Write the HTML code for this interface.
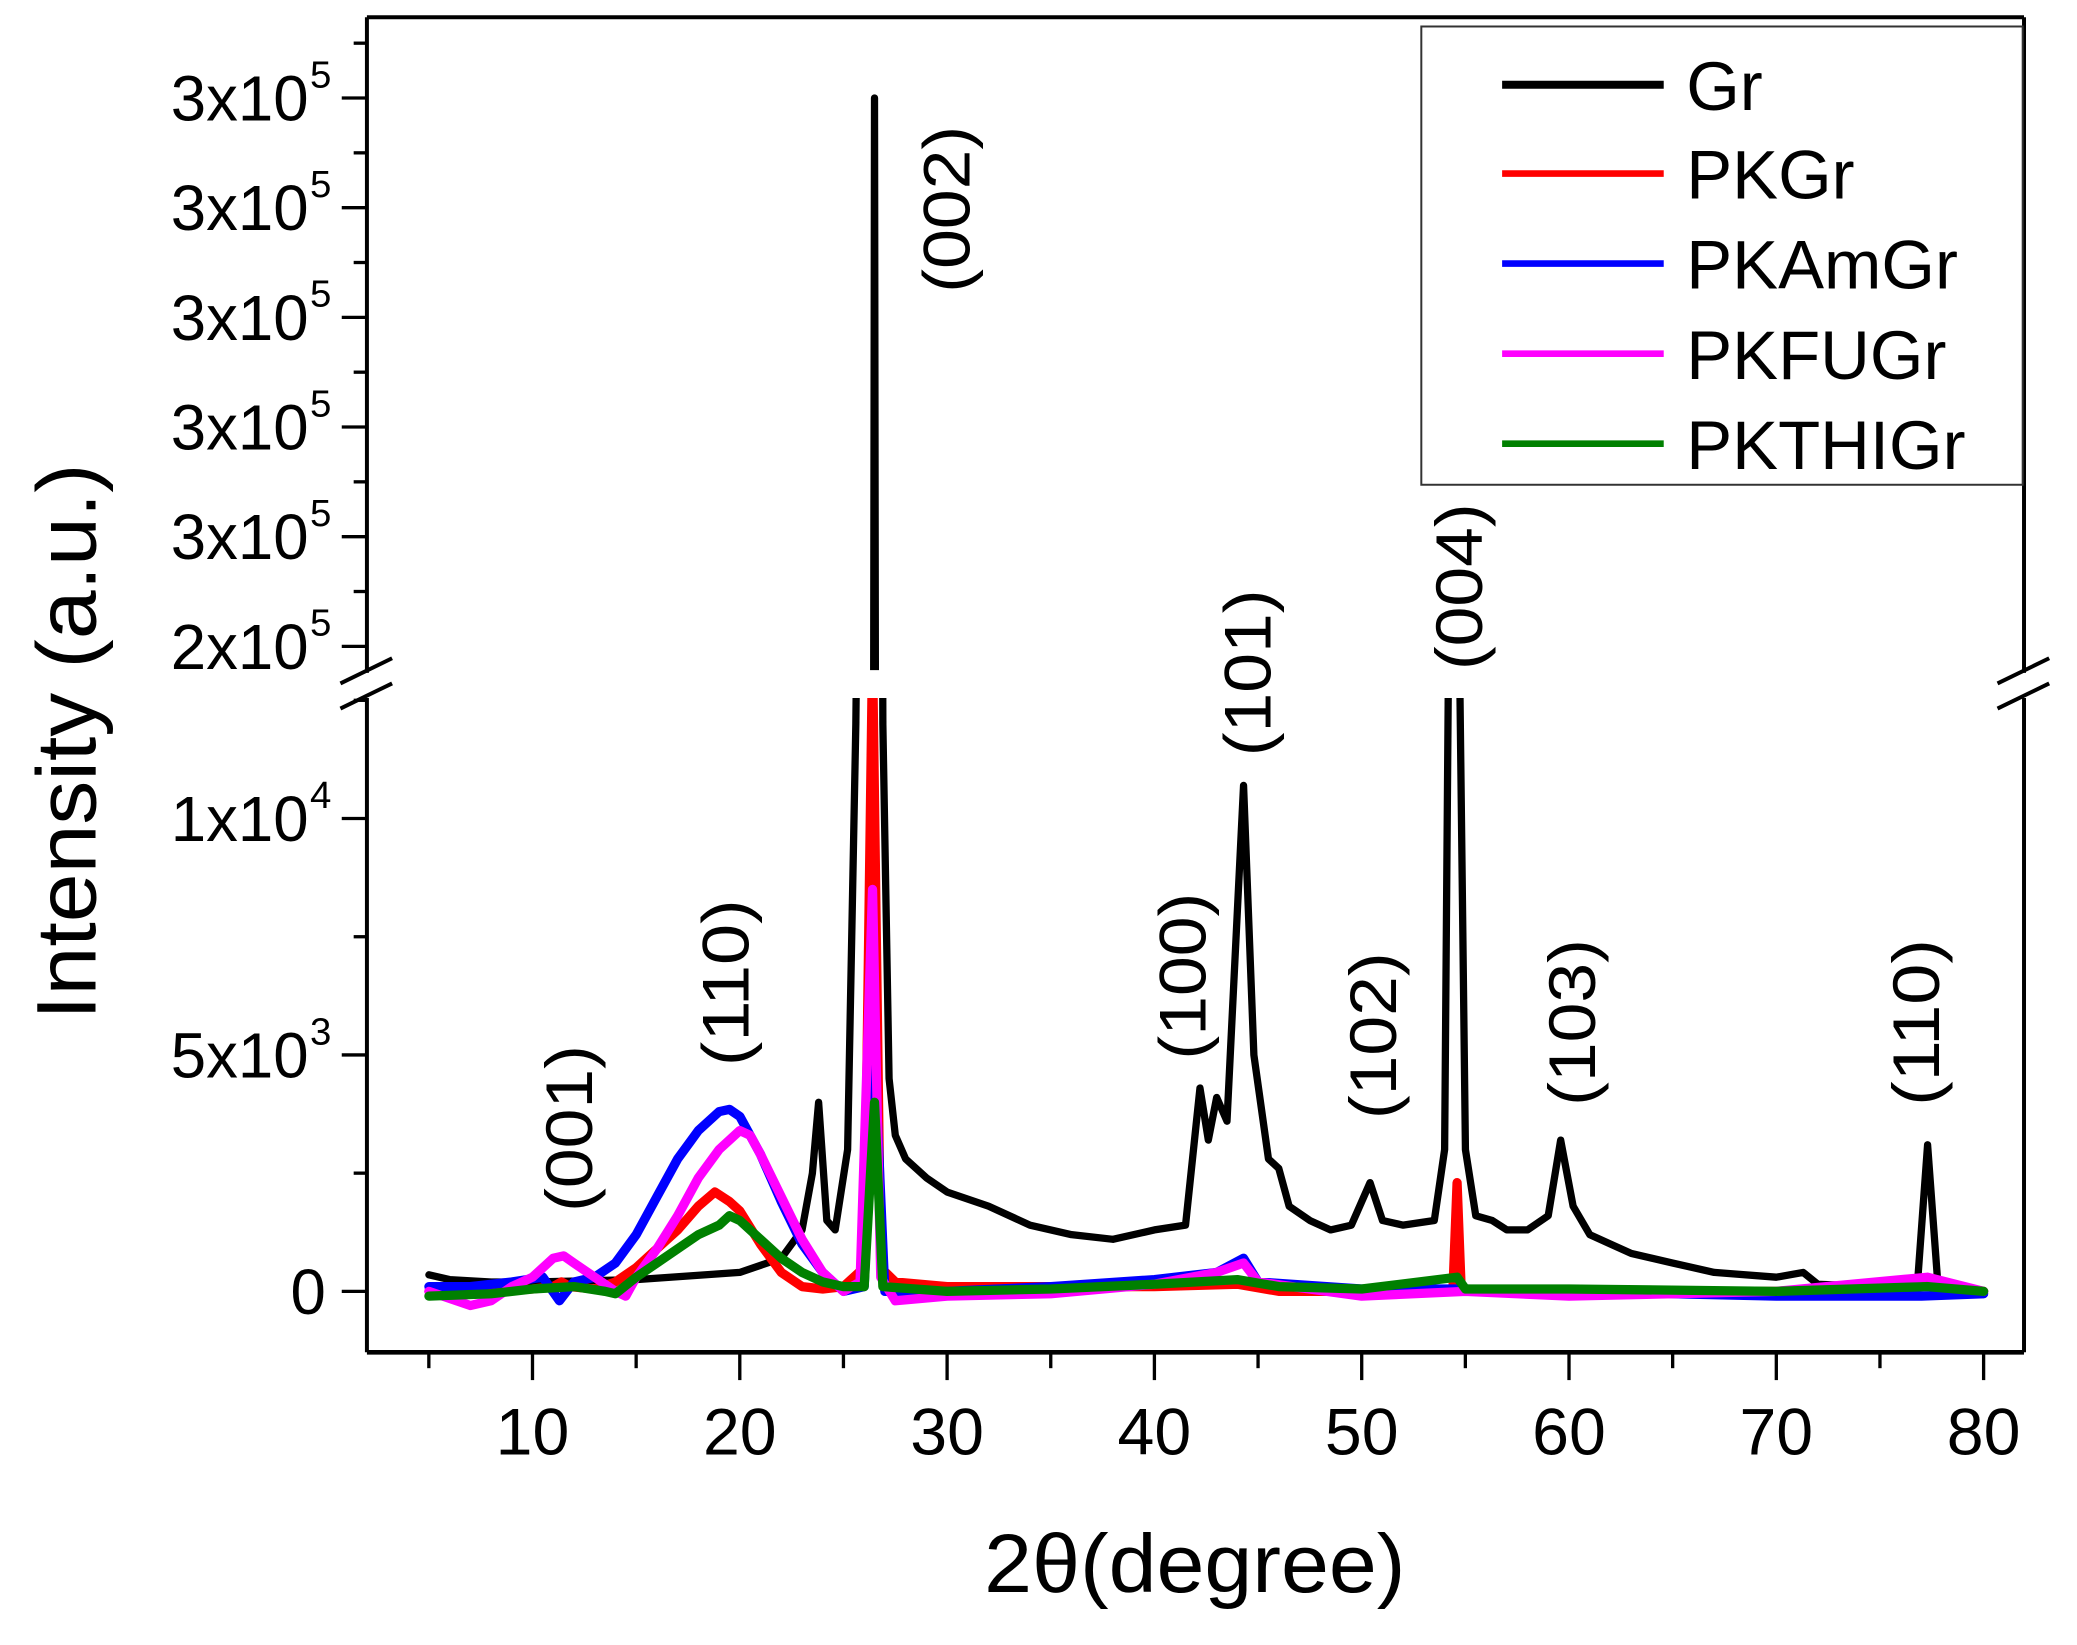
<!DOCTYPE html>
<html><head><meta charset="utf-8"><style>
html,body{margin:0;padding:0;background:#fff;width:2077px;height:1645px;overflow:hidden;}
svg{display:block;font-family:"Liberation Sans",Arial,sans-serif;}
</style></head><body>
<svg id="chart" width="2077" height="1645" viewBox="0 0 1568 1242" preserveAspectRatio="none" xmlns="http://www.w3.org/2000/svg">
<defs>
<clipPath id="clipLow"><rect x="279" y="527" width="1247" height="492"/></clipPath>
<clipPath id="clipUp"><rect x="279" y="15" width="1247" height="491"/></clipPath>
</defs>
<g id="axes"></g>
<g id="series"></g>
<g id="labels"></g>
<g id="legend"></g>
<text transform="translate(72,560) rotate(-90)" text-anchor="middle" font-size="64" textLength="420" lengthAdjust="spacingAndGlyphs">Intensity (a.u.)</text>
<text x="902" y="1202" text-anchor="middle" font-size="62" textLength="318" lengthAdjust="spacingAndGlyphs">2θ(degree)</text>
</svg>
<script>
const xTicks = [10,20,30,40,50,60,70,80];
const xMinor = [5,15,25,35,45,55,65,75];
const yLowTicks = [0,5000,10000];
const yLowTickLabels = ["0","5x10","1x10"];
const yLowTickExp = ["","3","4"];
const yLowMinor = [2500,7500,12500];
const yUpTicks = [250000,260000,270000,280000,290000,300000];
const yUpTickLabels = ["2x10","3x10","3x10","3x10","3x10","3x10"];
const yUpMinor = [245000,255000,265000,275000,285000,295000,305000];

const seriesNames = ["Gr","PKGr","PKAmGr","PKFUGr","PKTHIGr"];
const seriesColors = ["#000000","#ff0000","#0000ff","#ff00ff","#008000"];

const grX = [5,6,8,10,15,20,22,23,23.5,23.8,24.2,24.6,25.2,25.6,26.3,26.5,26.7,26.9,27.2,27.5,28,29,30,32,34,36,38,39.5,40,41.5,42.2,42.6,43,43.5,44.3,44.8,45.5,46,46.5,47.5,48.5,49.5,50.4,51,52,53.5,54,54.2,54.7,55,55.5,56.3,57,58,59,59.6,60.2,61,62,63,65,67,70,71.3,72,75,76.8,77.3,77.8,79,80];
const grY = [350,250,200,200,250,400,700,1300,2500,4000,1500,1300,3000,12000,40000,300000,40000,12000,4500,3300,2800,2400,2100,1800,1400,1200,1100,1250,1300,1400,4300,3200,4100,3600,10700,5000,2800,2600,1800,1500,1300,1400,2300,1500,1400,1500,3000,14000,14000,3000,1600,1500,1300,1300,1600,3200,1800,1200,1000,800,600,400,300,400,150,100,100,3100,100,-50,0];
const pkX = [5,8,10,11,11.4,11.8,13,14,15,16,17,18,18.8,19.5,20,21,22,23,24,25,26,26.4,26.8,27.5,30,35,40,44,46,50,54.4,54.6,54.8,60,70,77.3,80];
const pkY = [0,0,50,100,200,100,50,200,500,900,1300,1800,2100,1900,1700,1000,400,100,50,100,500,13500,500,200,100,100,100,150,0,0,50,2300,50,0,0,200,0];
const amX = [5,7,9,10.5,11.3,12,13,14,15,16,17,18,19,19.5,20,21,22,23,24,25,26,26.5,27,30,35,40,43,44.3,45,50,55,60,70,77,80];
const amY = [100,100,200,300,-200,200,300,600,1200,2000,2800,3400,3800,3850,3700,2900,1900,1000,400,0,100,5000,0,0,100,250,400,700,200,50,50,0,-100,-100,-50];
const fuX = [5,7,8,9,10,11,11.5,12,13,14,14.5,15,16,17,18,19,20,20.5,21,22,23,24,25,25.8,26.4,26.8,27.5,30,35,40,43,44.3,45,50,55,60,70,77.3,80];
const fuY = [0,-300,-200,100,300,700,750,600,300,0,-100,300,900,1600,2400,3000,3400,3300,2900,2000,1100,400,0,200,8500,300,-200,-100,-50,150,400,600,200,-100,0,-100,0,300,0];
const thX = [5,8,10,12,13.5,14,15,16,17,18,19,19.5,20,21,22,23,24,25,26,26.5,26.9,30,35,40,44,46,50,54.6,55,60,70,77.3,80];
const thY = [-100,-50,50,100,0,-50,300,600,900,1200,1400,1600,1500,1100,700,400,200,100,100,4000,100,0,50,150,250,100,50,300,50,50,0,100,0];

const peakLabels = ["(001)","(110)","(002)","(100)","(101)","(102)","(004)","(103)","(110)"];
const peakLabelX = [430,548,715,893,942,1037,1102,1187,1447];
const peakLabelY = [852,742,158,737,508,782,443,772,772];

const NS = "http://www.w3.org/2000/svg";
const L=277, R=1528, T=13, B=1021;
function xs(v){ return 402 + (v-10)*15.65; }
function yLow(v){ return 975 - v*0.0357; }
function yUp(v){ return 488 - (v-250000)*0.00828; }
function mk(tag, attrs, parent){
  const e=document.createElementNS(NS,tag);
  for(const k in attrs) e.setAttribute(k, attrs[k]);
  parent.appendChild(e); return e;
}
const axes=document.getElementById('axes');
let f;
f=mk('line',{x1:L,y1:B,x2:R,y2:B,stroke:'#000','stroke-width':3.5},axes);


f=mk('line',{x1:L,y1:T,x2:R,y2:T,stroke:'#000','stroke-width':3},axes);


f=mk('line',{x1:L,y1:T,x2:L,y2:508,stroke:'#000','stroke-width':3},axes);


f=mk('line',{x1:L,y1:527,x2:L,y2:B,stroke:'#000','stroke-width':3},axes);


f=mk('line',{x1:R,y1:T,x2:R,y2:508,stroke:'#000','stroke-width':3},axes);


f=mk('line',{x1:R,y1:527,x2:R,y2:B,stroke:'#000','stroke-width':3},axes);


[[L,'left'],[R,'right']].forEach(([bx,side])=>{
  [0,19].forEach(dy=>{
    const b=mk('line',{x1:bx-20,y1:535+dy-19,x2:bx+19,y2:516+dy-19,stroke:'#000','stroke-width':3},axes);
    
    
  });
});
xTicks.forEach((v,i)=>{
  const t=mk('line',{x1:xs(v),y1:B,x2:xs(v),y2:B+21,stroke:'#000','stroke-width':2.5},axes);
  
  
  const tx=mk('text',{x:xs(v),y:B+77,'text-anchor':'middle','font-size':50},axes);
  tx.textContent=String(v);
  
  
});
xMinor.forEach(v=>{
  const t=mk('line',{x1:xs(v),y1:B,x2:xs(v),y2:B+12,stroke:'#000','stroke-width':2.5},axes);
  
  
});
function yTick(y,len,name){
  const t=mk('line',{x1:L-len,y1:y,x2:L,y2:y,stroke:'#000','stroke-width':2.5},axes);
  
  
}
function yLabel(y,txt,exp){
  const t=mk('text',{x:exp?233:246,y:y+17,'text-anchor':'end','font-size':48},axes);
  t.textContent=txt;
  
  
  if(exp){
    const e=mk('text',{x:234,y:y-8,'font-size':29},axes);
    e.textContent=exp;
    
    
  }
}
yLowTicks.forEach((v,i)=>{ yTick(yLow(v),19,'y-tick'); yLabel(yLow(v),yLowTickLabels[i],yLowTickExp[i]); });
yLowMinor.forEach(v=>{ if(yLow(v)>527) yTick(yLow(v),10,'y-minor-tick'); });
yUpTicks.forEach((v,i)=>{ yTick(yUp(v),19,'y-tick'); yLabel(yUp(v),yUpTickLabels[i],"5"); });
yUpMinor.forEach(v=>{ if(yUp(v)<506 && yUp(v)>T) yTick(yUp(v),10,'y-minor-tick'); });

const sg=document.getElementById('series');
const allX=[grX,pkX,amX,fuX,thX], allY=[grY,pkY,amY,fuY,thY];
allX.forEach((X,si)=>{
  const Y=allY[si];
  let dl='', du='';
  X.forEach((x,i)=>{
    dl+=(i?'L':'M')+xs(x).toFixed(1)+','+Math.max(-5000,Math.min(5000,yLow(Y[i]))).toFixed(1);
    du+=(i?'L':'M')+xs(x).toFixed(1)+','+Math.max(-5000,Math.min(5000,yUp(Y[i]))).toFixed(1);
  });
  const sw = si==0 ? 5.5 : 7;
  const p=mk('path',{d:dl,fill:'none',stroke:seriesColors[si],'stroke-width':sw,'stroke-linejoin':'round','stroke-linecap':'round','clip-path':'url(#clipLow)'},sg);
  
  
  const q=mk('path',{d:du,fill:'none',stroke:seriesColors[si],'stroke-width':sw,'stroke-linejoin':'round','clip-path':'url(#clipUp)'},sg);
  
  
});

const lg=document.getElementById('labels');
peakLabels.forEach((s,i)=>{
  const t=mk('text',{transform:'translate('+(peakLabelX[i]+17)+','+peakLabelY[i]+') rotate(-90)','text-anchor':'middle','font-size':50,textLength:126,lengthAdjust:'spacingAndGlyphs'},lg);
  t.textContent=s;
  
  
});

const leg=document.getElementById('legend');
const box=mk('rect',{x:1073,y:20,width:454,height:346,fill:'#fff',stroke:'#333','stroke-width':1.5},leg);


const rowY=[64,131,199,267,335];
seriesNames.forEach((n,i)=>{
  const ln=mk('line',{x1:1134,y1:rowY[i],x2:1256,y2:rowY[i],stroke:seriesColors[i],'stroke-width':i==0?6:5},leg);
  
  
  const t=mk('text',{x:1273,y:rowY[i]+19,'font-size':52},leg);
  t.textContent=n;
  
  
});
</script>
</body></html>
